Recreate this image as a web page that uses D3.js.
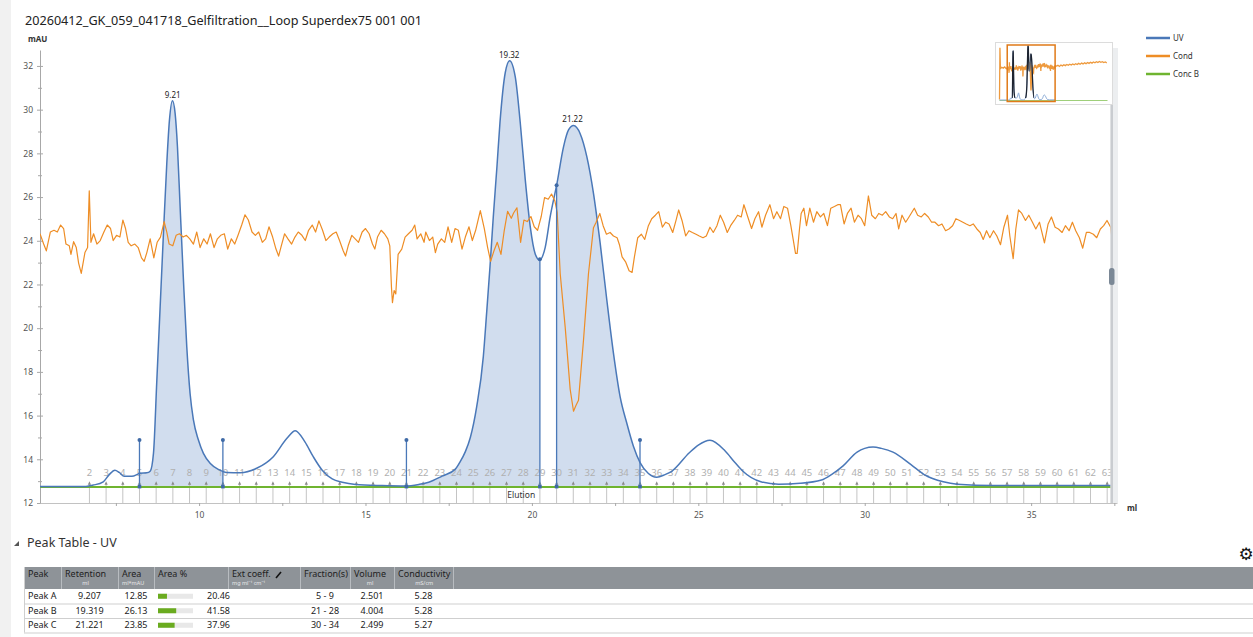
<!DOCTYPE html>
<html><head><meta charset="utf-8">
<script src="https://cdn.jsdelivr.net/npm/d3@7"></script>
<style>
body{margin:0;background:#fff;font-family:"Noto Sans","Open Sans",sans-serif;}
svg{display:block}
</style></head><body>
<svg id="c" width="1253" height="637"></svg>
<script>
const chartTitle = "20260412_GK_059_041718_Gelfiltration__Loop Superdex75 001 001";
const yUnit = "mAU", xUnit = "ml";
const yTicks = [12,14,16,18,20,22,24,26,28,30,32];
const yMinorTicks = [13,15,17,19,21,23,25,27,29,31];
const xTicks = [10,15,20,25,30,35];
const xMinorTicks = [7.5,12.5,17.5,22.5,27.5,32.5,37.5];
const seriesNames = ["UV","Cond","Conc B"];

// UV trace [ml, mAU]
const uvData = [[5.22,12.75],[6.0,12.75],[6.6,12.76],[6.82,12.82],[7.12,12.97],[7.3,13.3],[7.47,13.5],[7.6,13.4],[7.75,13.22],[7.98,13.22],[8.23,13.36],[8.43,13.38],[8.53,13.45],[8.63,14.28],[8.73,17.6],[8.83,20.98],[8.93,24.36],[9.03,27.56],[9.11,29.53],[9.2,30.41],[9.28,29.83],[9.35,28.3],[9.43,25.56],[9.53,22.2],[9.63,19.15],[9.73,17.0],[9.83,15.8],[9.98,14.88],[10.13,14.27],[10.33,13.82],[10.58,13.54],[10.83,13.4],[11.23,13.39],[11.73,13.59],[12.23,14.12],[12.64,14.96],[12.89,15.31],[13.18,14.8],[13.43,14.12],[13.7,13.5],[14.0,13.1],[14.3,12.95],[14.7,12.85],[15.5,12.8],[16.2,12.78],[16.6,12.85],[16.9,12.95],[17.3,13.23],[17.7,13.55],[17.85,13.9],[18.0,14.35],[18.15,15.0],[18.34,16.4],[18.54,18.7],[18.64,20.7],[18.74,22.8],[18.84,25.1],[18.95,27.4],[19.04,29.4],[19.2,31.7],[19.33,32.24],[19.5,31.5],[19.65,29.4],[19.8,26.8],[19.95,24.65],[20.1,23.4],[20.23,23.12],[20.4,23.7],[20.55,25.1],[20.75,26.6],[20.95,28.3],[21.1,29.07],[21.25,29.27],[21.45,28.9],[21.65,27.85],[21.85,26.17],[22.05,23.9],[22.25,21.3],[22.45,18.86],[22.65,16.87],[22.85,15.66],[23.05,14.6],[23.25,13.85],[23.5,13.35],[23.75,13.18],[24.0,13.3],[24.2,13.45],[24.73,14.3],[25.0,14.65],[25.35,14.87],[25.8,14.39],[26.1,13.85],[26.34,13.45],[26.88,12.97],[27.41,12.86],[28.06,12.9],[28.7,13.05],[29.0,13.3],[29.35,13.7],[29.77,14.33],[30.0,14.5],[30.25,14.56],[30.5,14.5],[30.85,14.33],[31.39,13.76],[31.8,13.29],[32.36,12.97],[32.78,12.86],[33.86,12.8],[37.58,12.8]];

// Conductivity trace [ml, value on mAU axis]
const condData = [[5.22,24.32],[5.33,23.85],[5.41,23.54],[5.53,24.4],[5.64,24.48],[5.74,24.4],[5.84,24.72],[5.93,24.56],[6.0,23.85],[6.1,23.77],[6.15,23.38],[6.23,23.96],[6.31,23.69],[6.38,22.98],[6.46,22.51],[6.57,23.46],[6.65,23.69],[6.7,26.29],[6.75,23.93],[6.83,24.32],[6.93,23.85],[7.03,24.01],[7.14,24.4],[7.24,24.72],[7.34,24.56],[7.42,24.01],[7.52,24.25],[7.62,24.17],[7.71,24.95],[7.79,24.56],[7.87,23.93],[7.96,23.77],[8.07,23.85],[8.17,23.69],[8.27,23.22],[8.35,23.06],[8.43,23.46],[8.53,24.09],[8.64,23.22],[8.74,23.93],[8.84,24.17],[8.95,24.88],[9.03,24.4],[9.1,23.85],[9.21,23.77],[9.31,24.25],[9.41,24.32],[9.52,24.17],[9.62,24.25],[9.72,24.09],[9.83,23.85],[9.93,24.4],[10.03,23.69],[10.14,24.09],[10.24,23.85],[10.34,24.32],[10.45,23.69],[10.55,24.09],[10.65,24.25],[10.76,24.32],[10.86,23.62],[10.97,24.09],[11.07,23.85],[11.17,24.25],[11.28,24.72],[11.38,25.19],[11.48,24.95],[11.59,24.4],[11.69,24.25],[11.79,24.4],[11.9,23.93],[12.0,24.09],[12.1,24.64],[12.21,24.17],[12.31,23.62],[12.39,23.3],[12.47,23.77],[12.57,24.32],[12.67,24.09],[12.78,23.85],[12.88,24.17],[12.98,24.4],[13.09,24.25],[13.19,24.01],[13.29,24.48],[13.4,24.72],[13.5,24.4],[13.6,24.91],[13.71,24.48],[13.81,24.01],[13.91,24.17],[14.02,24.32],[14.12,24.4],[14.22,24.01],[14.33,23.54],[14.4,23.3],[14.48,23.77],[14.59,24.25],[14.69,24.09],[14.79,23.93],[14.9,24.4],[15.0,24.56],[15.11,24.32],[15.21,23.85],[15.28,23.62],[15.36,24.17],[15.47,24.48],[15.57,24.32],[15.67,24.09],[15.73,23.77],[15.78,21.88],[15.81,21.17],[15.86,21.72],[15.91,21.57],[15.98,23.38],[16.09,23.62],[16.19,24.17],[16.29,24.32],[16.4,24.48],[16.48,24.72],[16.55,24.09],[16.66,24.32],[16.76,23.93],[16.81,24.4],[16.92,24.01],[17.02,24.17],[17.1,23.46],[17.17,23.85],[17.28,24.09],[17.38,23.93],[17.48,24.64],[17.59,23.93],[17.69,24.56],[17.79,24.48],[17.9,23.62],[18.0,24.17],[18.11,24.64],[18.21,24.01],[18.31,24.48],[18.45,25.38],[18.57,24.56],[18.67,23.69],[18.76,23.06],[18.86,23.54],[18.96,23.93],[19.07,23.38],[19.17,24.48],[19.27,25.35],[19.38,25.03],[19.45,25.27],[19.55,25.51],[19.66,23.93],[19.76,24.95],[19.86,24.88],[19.97,25.11],[20.07,24.64],[20.17,24.48],[20.28,25.11],[20.38,25.98],[20.49,25.9],[20.59,26.14],[20.69,25.82],[20.76,25.3],[20.85,22.5],[21.0,20.05],[21.15,17.2],[21.25,16.2],[21.32,16.45],[21.4,16.7],[21.55,19.45],[21.7,22.5],[21.85,24.6],[21.93,24.85],[22.04,25.25],[22.14,24.69],[22.24,24.3],[22.35,24.38],[22.45,24.22],[22.56,24.14],[22.63,23.82],[22.71,23.26],[22.82,23.02],[22.92,22.63],[23.01,22.55],[23.08,23.26],[23.18,24.14],[23.29,24.3],[23.39,24.06],[23.5,24.69],[23.6,25.01],[23.71,25.17],[23.81,25.33],[23.92,24.62],[24.02,24.85],[24.12,24.77],[24.23,24.38],[24.33,24.93],[24.41,25.41],[24.51,24.93],[24.62,24.22],[24.72,24.46],[24.82,24.38],[24.93,24.3],[25.03,24.22],[25.14,24.14],[25.24,24.22],[25.35,24.62],[25.45,24.38],[25.56,24.69],[25.66,25.17],[25.76,24.85],[25.87,24.38],[25.97,24.69],[26.08,24.93],[26.18,25.17],[26.29,25.09],[26.37,25.65],[26.47,25.17],[26.6,24.56],[26.7,25.01],[26.81,25.33],[26.91,24.62],[27.02,25.17],[27.15,25.65],[27.26,25.01],[27.36,25.33],[27.47,25.01],[27.57,25.57],[27.68,25.49],[27.78,24.69],[27.85,24.06],[27.92,23.42],[27.97,23.42],[28.04,24.54],[28.09,25.25],[28.17,25.49],[28.25,24.69],[28.35,25.49],[28.46,24.85],[28.56,25.33],[28.67,25.09],[28.77,25.25],[28.88,24.69],[28.98,25.49],[29.09,25.57],[29.19,25.65],[29.27,25.65],[29.38,24.77],[29.48,25.25],[29.59,25.49],[29.69,24.85],[29.8,25.17],[29.9,25.01],[30.0,24.69],[30.11,26.05],[30.21,25.17],[30.32,25.01],[30.42,25.25],[30.53,25.17],[30.63,25.33],[30.74,25.09],[30.84,25.01],[30.94,25.25],[31.02,24.54],[31.12,25.17],[31.23,24.85],[31.33,25.09],[31.49,25.49],[31.59,25.17],[31.7,25.09],[31.8,25.25],[31.91,25.09],[32.01,24.85],[32.11,24.85],[32.22,24.69],[32.32,24.77],[32.43,24.46],[32.53,24.54],[32.64,24.69],[32.74,25.01],[32.85,24.93],[32.95,24.85],[33.05,24.77],[33.16,24.69],[33.26,24.77],[33.37,24.54],[33.47,24.38],[33.56,24.06],[33.66,24.46],[33.76,24.14],[33.87,24.46],[33.97,24.22],[34.08,23.82],[34.18,24.62],[34.29,25.17],[34.36,24.22],[34.46,23.18],[34.54,24.54],[34.62,25.41],[34.72,25.25],[34.83,24.93],[34.93,25.17],[35.04,24.85],[35.14,24.54],[35.25,24.85],[35.35,24.22],[35.4,23.9],[35.51,24.77],[35.61,25.09],[35.72,24.62],[35.82,24.54],[35.93,24.38],[36.03,24.69],[36.14,24.46],[36.24,24.85],[36.34,24.46],[36.45,24.14],[36.55,23.66],[36.66,24.38],[36.76,24.38],[36.87,24.3],[36.97,24.14],[37.08,24.54],[37.18,24.69],[37.28,24.93],[37.39,24.62],[37.44,23.98],[37.58,25.04]];

// Conductivity outside the zoomed window (overview only)
const condBefore = [[0,12.9],[0.3,31.5],[0.6,24.0],[1.5,24.5],[2.5,24.2],[3.5,24.6],[4.5,24.0],[5.22,24.32]];
const condAfter = [[37.58,25.04],[38.5,24.9],[39.5,25.2],[40.5,24.8],[41.5,25.3],[42.5,25.0],[43.5,25.4],[44.5,25.1],[45.5,25.5],[46.5,25.2],[47.5,25.6],[48.5,25.3],[49.5,25.7],[50.5,25.4],[51.5,25.8],[52.5,25.5],[53.5,25.9],[54.5,25.6],[55.5,26.0],[56.5,25.7],[57.5,26.1],[58.5,25.8],[59.5,26.2],[60.5,25.9],[61.5,26.3],[62.5,26.0],[63.5,26.4],[64.5,26.1],[65.5,26.5],[66.5,26.2],[67.5,26.6],[68.5,26.3],[69.5,26.5],[70.5,26.2],[71.5,26.4],[72.5,26.1]];
const uvOverviewExtra = [[0,12.75],[5.22,12.75]];
// Conc B (%B)
const concBData = [[0,0],[73,0]];

// Fractions
const fractionNames = ["2","3","4","5","6","7","8","9","10","11","12","13","14","15","16","17","18","19","20","21","22","23","24","25","26","27","28","29","30","31","32","33","34","35","36","37","38","39","40","41","42","43","44","45","46","47","48","49","50","51","52","53","54","55","56","57","58","59","60","61","62","63"];
const fractionStarts = [6.705,7.206,7.708,8.209,8.710,9.212,9.713,10.214,10.715,11.217,11.718,12.219,12.721,13.222,13.723,14.225,14.726,15.227,15.729,16.230,16.731,17.233,17.734,18.235,18.736,19.238,19.739,20.240,20.742,21.243,21.744,22.246,22.747,23.248,23.750,24.251,24.752,25.254,25.755,26.256,26.757,27.259,27.760,28.261,28.763,29.264,29.765,30.267,30.768,31.269,31.771,32.272,32.773,33.275,33.776,34.277,34.778,35.280,35.781,36.282,36.784,37.285];
const eventNames = ["Elution"];
const eventPos = [19.68];

// Peaks
const peakNames = ["Peak A","Peak B","Peak C"];
const peakRetention = [9.207,19.319,21.221];
const peakStart = [8.209,16.230,20.742];
const peakEnd = [10.715,20.240,23.248];
const peakArea = [12.85,26.13,23.85];
const peakAreaPct = [20.46,41.58,37.96];
const peakFractions = ["5 - 9","21 - 28","30 - 34"];
const peakVolume = [2.501,4.004,2.499];
const peakConductivity = [5.28,5.28,5.27];
const tableHeaders = ["Peak","Retention","Area","Area %","Ext coeff.","Fraction(s)","Volume","Conductivity",""];
const tableSubs = ["","ml","ml*mAU","","mg ml\u207B\u00B9 cm\u207B\u00B9","","ml","mS/cm",""];

// ---------- styles / layout ----------
const C = {uv:"#4a78b8", fill:"#d1ddee", cond:"#ee8d25", concB:"#6fb430", axis:"#a8a8a8", tick:"#555", frac:"#b0b0b0"};
const svg = d3.select("#c");
const FONT = '"Noto Sans","Open Sans",sans-serif';
const defs = svg.append("defs");

svg.append("rect").attr("x",0).attr("y",0).attr("width",11).attr("height",637).attr("fill","#f1f1f1");

svg.append("text").attr("x",25).attr("y",25).attr("font-size",13).attr("fill","#222")
  .attr("textLength",397).attr("lengthAdjust","spacingAndGlyphs").attr("font-family",FONT).text(chartTitle);

const x = d3.scaleLinear().domain([5.22,37.58]).range([40,1117]);
const y = d3.scaleLinear().domain([12,32.73]).range([503,50]);
const baseV = 12.75;
const yB = d3.scaleLinear().domain([0,100]).range([y(12.73), y(32.73)]);

defs.append("clipPath").attr("id","plotclip").append("rect")
  .attr("x",40).attr("y",40).attr("width",1077).attr("height",470);

// y axis
const yAx = svg.append("g").attr("transform","translate(40,0)")
  .call(d3.axisLeft(y).tickValues(yTicks).tickSize(3).tickSizeOuter(0).tickPadding(4));
yAx.select(".domain").attr("stroke",C.axis);
yAx.selectAll(".tick line").attr("stroke",C.axis);
yAx.selectAll("text").attr("font-size",8.5).attr("fill",C.tick).attr("font-family",FONT);
svg.append("g").attr("transform","translate(40,0)")
  .call(d3.axisRight(y).tickValues(yTicks).tickSize(3).tickFormat(""))
  .call(g=>{g.select(".domain").remove(); g.selectAll("line").attr("stroke",C.axis);});
svg.append("g").attr("transform","translate(40,0)")
  .call(d3.axisLeft(y).tickValues(yMinorTicks).tickSize(2).tickFormat(""))
  .call(g=>{g.select(".domain").remove(); g.selectAll("line").attr("stroke",C.axis);});
svg.append("g").attr("transform","translate(40,0)")
  .call(d3.axisRight(y).tickValues(yMinorTicks).tickSize(2).tickFormat(""))
  .call(g=>{g.select(".domain").remove(); g.selectAll("line").attr("stroke",C.axis);});
svg.append("text").attr("x",28).attr("y",42).attr("font-size",8).attr("font-weight","bold").attr("fill","#333").attr("font-family",FONT).text(yUnit);

const plot = svg.append("g");

// peak fills (drawn first)
peakStart.forEach((s,i)=>{
  defs.append("clipPath").attr("id","pk"+i).append("rect")
    .attr("x",x(s)).attr("y",40).attr("width",x(peakEnd[i])-x(s)).attr("height",470);
});
const area = d3.area().x(d=>x(d[0])).y0(y(baseV)).y1(d=>y(d[1])).curve(d3.curveMonotoneX);
peakStart.forEach((s,i)=>{
  plot.append("path").datum(uvData).attr("d",area).attr("fill",C.fill).attr("clip-path","url(#pk"+i+")");
});

// fraction markers (over fill)
const fr = plot.append("g");
fractionStarts.forEach((f,i)=>{
  const px = x(f), ft = y(13.0);
  fr.append("line").attr("x1",px).attr("x2",px).attr("y1",ft+2).attr("y2",503).attr("stroke","#c4c4c4").attr("stroke-width",1);
  fr.append("path").attr("d",`M${px-1.6},${ft+3.5}L${px},${ft}L${px+1.6},${ft+3.5}Z`).attr("fill","#8a8a8a");
  fr.append("text").attr("x",px).attr("y",ft-5).attr("text-anchor","middle").attr("font-size",9.5)
    .attr("fill",C.frac).attr("font-family",FONT).text(fractionNames[i]);
});

// x axis
const xAx = svg.append("g").attr("transform","translate(0,503)")
  .call(d3.axisBottom(x).tickValues(xTicks).tickSize(3).tickSizeOuter(0).tickPadding(6));
xAx.select(".domain").attr("stroke","#c2c2c2");
xAx.selectAll(".tick line").attr("stroke",C.axis);
xAx.selectAll("text").attr("font-size",8.5).attr("fill",C.tick).attr("font-family",FONT);
svg.append("g").attr("transform","translate(0,503)")
  .call(d3.axisBottom(x).tickValues(xMinorTicks).tickSize(3).tickFormat(""))
  .call(g=>{g.select(".domain").remove(); g.selectAll("line").attr("stroke",C.axis);});
svg.append("text").attr("x",1127).attr("y",511).attr("font-size",8).attr("font-weight","bold").attr("fill","#333").attr("font-family",FONT).text(xUnit);

// Conc B
plot.append("path").datum(concBData.map(d=>[Math.min(Math.max(d[0],5.22),37.58),d[1]]))
  .attr("d",d3.line().x(d=>x(d[0])).y(d=>yB(d[1]))).attr("stroke",C.concB).attr("stroke-width",2).attr("fill","none");

// event label
eventNames.forEach((n,i)=>{
  plot.append("text").attr("x",x(eventPos[i])).attr("y",498).attr("text-anchor","middle").attr("font-size",8.5).attr("fill","#333").attr("font-family",FONT).text(n);
});

// UV line
const uvLine = d3.line().x(d=>x(d[0])).y(d=>y(d[1])).curve(d3.curveMonotoneX);
plot.append("path").datum(uvData).attr("d",uvLine).attr("stroke",C.uv).attr("stroke-width",1.5).attr("fill","none");

// Cond line
plot.append("path").datum(condData).attr("d",d3.line().x(d=>x(d[0])).y(d=>y(d[1])))
  .attr("stroke",C.cond).attr("stroke-width",1.2).attr("fill","none").attr("stroke-linejoin","round").attr("clip-path","url(#plotclip)");

// peak boundary markers
function uvAt(v){
  const i = d3.bisector(d=>d[0]).left(uvData,v);
  if(i<=0) return uvData[0][1];
  if(i>=uvData.length) return uvData[uvData.length-1][1];
  const a=uvData[i-1], b=uvData[i], t=(v-a[0])/(b[0]-a[0]);
  return a[1]+t*(b[1]-a[1]);
}
const markerMin = 14.88;
const bounds = Array.from(new Set(peakStart.concat(peakEnd))).sort((a,b)=>a-b);
bounds.forEach(b=>{
  const top = Math.max(uvAt(b), markerMin);
  plot.append("line").attr("x1",x(b)).attr("x2",x(b)).attr("y1",y(top)).attr("y2",y(baseV)).attr("stroke",C.uv).attr("stroke-width",1.3);
  plot.append("circle").attr("cx",x(b)).attr("cy",y(top)).attr("r",2).attr("fill","#3f6aa6");
  plot.append("rect").attr("x",x(b)-1.8).attr("y",y(baseV)-1.8).attr("width",3.6).attr("height",3.6).attr("fill","#3f6aa6");
});

// peak labels
peakRetention.forEach(r=>{
  plot.append("text").attr("x",x(r)).attr("y",y(uvAt(r))-4).attr("text-anchor","middle").attr("font-size",8)
    .attr("fill","#222").attr("font-family",FONT).text(r.toFixed(2));
});

// scrollbar
svg.append("rect").attr("x",1110.5).attr("y",48).attr("width",7.5).attr("height",455).attr("fill","#eceef0");
svg.append("rect").attr("x",1110.5).attr("y",48).attr("width",2.5).attr("height",455).attr("fill","#c9ccd0");
svg.append("rect").attr("x",1109).attr("y",268).attr("width",5.5).attr("height",17).attr("rx",2.5).attr("fill","#7b8896");

// ---------- overview (minimap) ----------
const mm = svg.append("g");
mm.append("rect").attr("x",995.5).attr("y",42.5).attr("width",117).attr("height",62).attr("fill","#fff").attr("stroke","#dcdcdc");
const xm = d3.scaleLinear().domain([0,73]).range([999.5,1107.5]);
const ym = d3.scaleLinear().domain([12.75,32.5]).range([100,45]);
mm.append("path").datum(concBData).attr("d",d3.line().x(d=>xm(d[0])).y(d=>ym(12.75)+0.5)).attr("stroke","#9fcf7a").attr("stroke-width",1.2).attr("fill","none");
mm.append("path").datum(condBefore.concat(condData.slice(1),condAfter.slice(1)))
  .attr("d",d3.line().x(d=>xm(d[0])).y(d=>ym(d[1]))).attr("stroke","#ee9a3e").attr("stroke-width",1.3).attr("fill","none");
const uvAll = uvOverviewExtra.concat(uvData.slice(1));
const mLine = d3.line().x(d=>xm(d[0])).y(d=>ym(d[1])).curve(d3.curveMonotoneX);
mm.append("path").datum(uvAll).attr("d",mLine).attr("stroke","#8aaad6").attr("stroke-width",1).attr("fill","none");
peakStart.forEach((s,i)=>{
  defs.append("clipPath").attr("id","mpk"+i).append("rect").attr("x",xm(s)).attr("y",40).attr("width",xm(peakEnd[i])-xm(s)).attr("height",58);
  mm.append("path").datum(uvData).attr("d",mLine).attr("stroke","#1e2430").attr("stroke-width",1.3).attr("fill","none").attr("clip-path","url(#mpk"+i+")");
});
mm.append("rect").attr("x",xm(5.22)).attr("y",45).attr("width",xm(37.58)-xm(5.22)).attr("height",56.5)
  .attr("fill","none").attr("stroke","#e07a18").attr("stroke-width",1.5);

// legend
const legColors = [C.uv, C.cond, C.concB];
seriesNames.forEach((n,i)=>{
  const ly = 38 + i*18;
  svg.append("line").attr("x1",1146).attr("x2",1170).attr("y1",ly).attr("y2",ly).attr("stroke",legColors[i]).attr("stroke-width",2.5);
  svg.append("text").attr("x",1173).attr("y",ly+3).attr("font-size",8).attr("fill","#333").attr("font-family",FONT).text(n);
});

// ---------- peak table ----------
svg.append("path").attr("d","M19,541 L19,546 L14,546 Z").attr("fill","#555");
svg.append("text").attr("x",27).attr("y",547).attr("font-size",12.5).attr("fill","#333").attr("font-family",FONT).text("Peak Table - UV");
svg.append("text").attr("x",1246).attr("y",560).attr("text-anchor","middle").attr("font-size",17).attr("fill","#111").attr("font-family","DejaVu Sans").text("\u2699");

const colEdges = [24,61,118,154,228,300,350,394,453,1253];
const tHead = 567, headH = 22, rowH = 14.5;
const tb = svg.append("g");
tb.append("rect").attr("x",24).attr("y",tHead).attr("width",1229).attr("height",headH).attr("fill","#8e9398");
tableHeaders.forEach((h,i)=>{
  const x0 = colEdges[i];
  if(i>0) tb.append("line").attr("x1",x0+0.5).attr("x2",x0+0.5).attr("y1",tHead).attr("y2",tHead+headH).attr("stroke","#b8bcc0");
  if(!h) return;
  const t = tb.append("text").attr("x",x0+4).attr("y",tHead+9.5).attr("font-size",9).attr("fill","#1e1e1e").attr("font-family",FONT).text(h);
  if(tableSubs[i]){
    const w = t.node().getComputedTextLength();
    const left = (i===2||i===4);
    tb.append("text").attr("x",left ? x0+4 : x0+4+w/2).attr("y",tHead+17.5).attr("text-anchor",left?"start":"middle").attr("font-size",5.5).attr("fill","#e8e8e8").attr("font-family",FONT).text(tableSubs[i]);
  }
});
tb.append("path").attr("d",`M276,${tHead+11} L281,${tHead+5}`).attr("stroke","#111").attr("stroke-width",1.6);
const barScale = d3.scaleLinear().domain([0,80]).range([0,35]);
peakNames.forEach((p,r)=>{
  const top = tHead+headH + r*rowH, cy = top + rowH/2 + 3;
  tb.append("line").attr("x1",24).attr("x2",1253).attr("y1",top+rowH+0.5).attr("y2",top+rowH+0.5).attr("stroke","#cfcfcf");
  const cell = (txt, i, anchor) => {
    const x0 = colEdges[i], x1 = colEdges[i+1];
    tb.append("text").attr("x", anchor==="start" ? x0+4 : (x0+x1)/2).attr("y",cy).attr("text-anchor",anchor||"middle")
      .attr("font-size",9).attr("fill","#222").attr("font-family",FONT).text(txt);
  };
  cell(p,0,"start");
  cell(peakRetention[r].toFixed(3),1);
  cell(peakArea[r].toFixed(2),2);
  tb.append("rect").attr("x",158).attr("y",top+rowH/2-2.5).attr("width",35).attr("height",5).attr("fill","#e8e8e8");
  tb.append("rect").attr("x",158).attr("y",top+rowH/2-2.5).attr("width",barScale(peakAreaPct[r])).attr("height",5).attr("fill","#6aab1f");
  tb.append("text").attr("x",207).attr("y",cy).attr("font-size",9).attr("fill","#222").attr("font-family",FONT).text(peakAreaPct[r].toFixed(2));
  cell(peakFractions[r],5);
  cell(peakVolume[r].toFixed(3),6);
  cell(peakConductivity[r].toFixed(2),7);
});
tb.append("line").attr("x1",24.5).attr("x2",24.5).attr("y1",tHead).attr("y2",tHead+headH+3*rowH).attr("stroke","#cfcfcf");
</script>
</body></html>
